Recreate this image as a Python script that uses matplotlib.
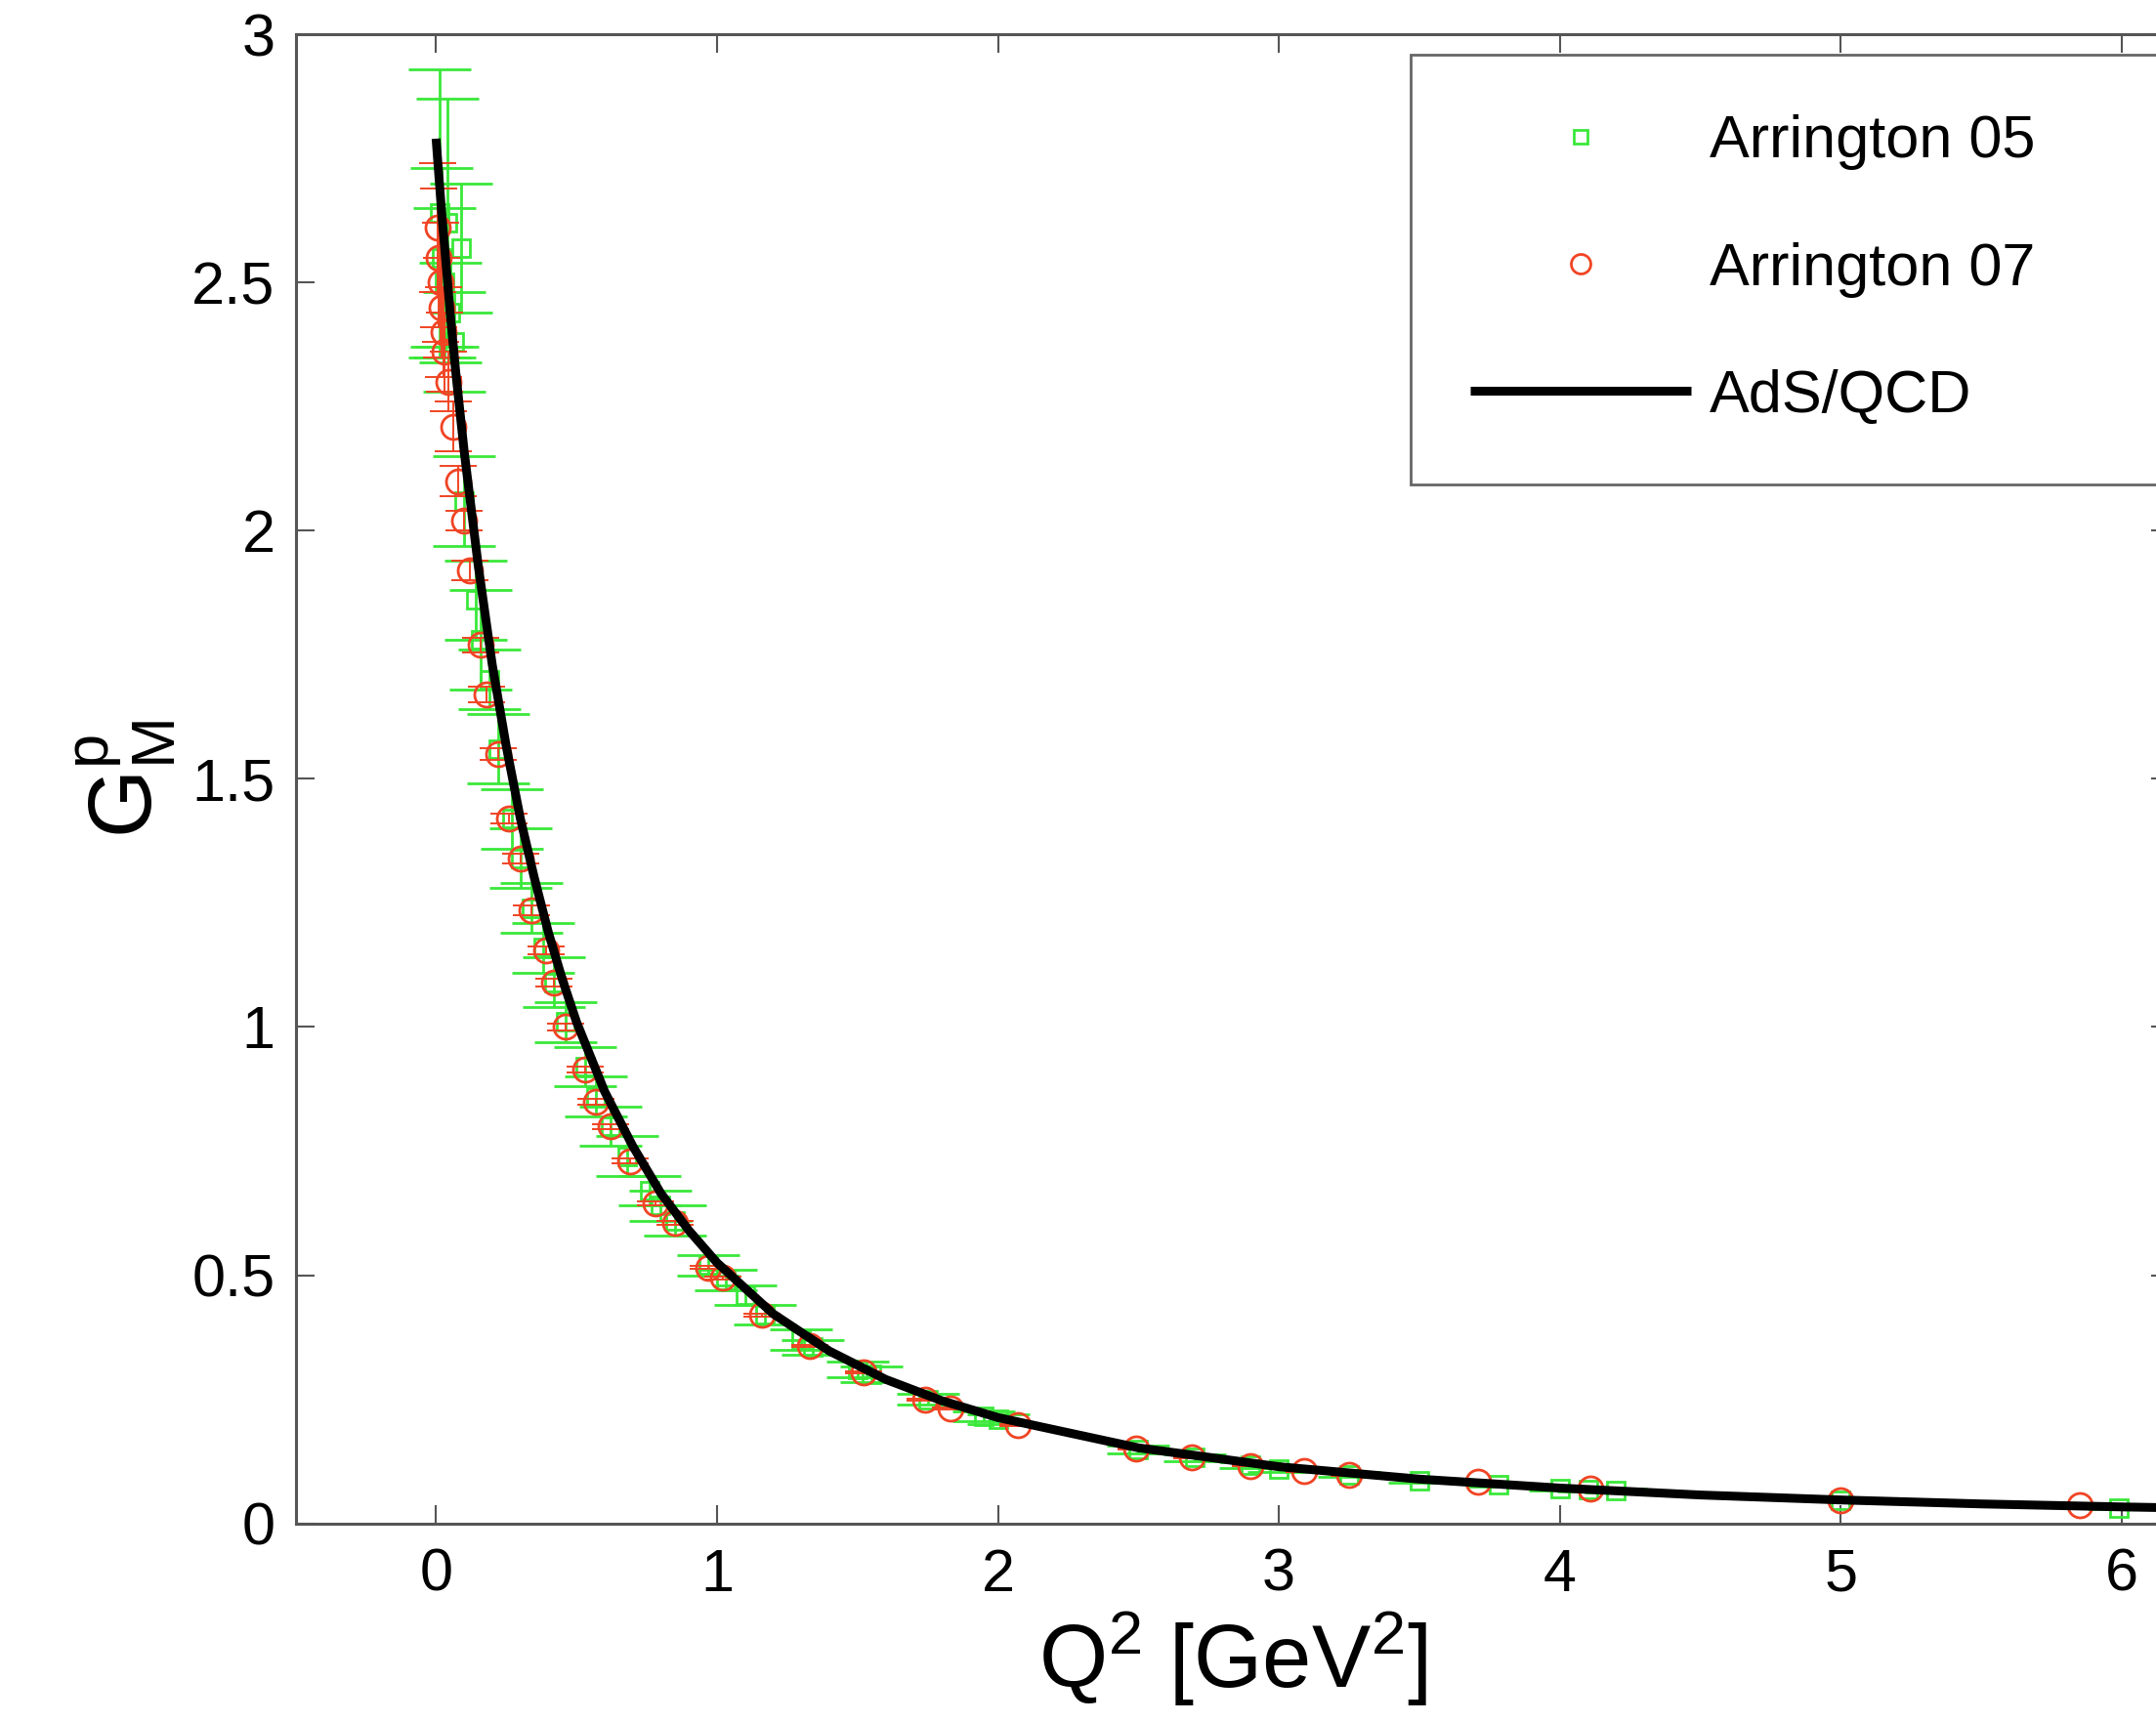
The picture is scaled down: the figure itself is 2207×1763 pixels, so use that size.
import matplotlib
matplotlib.use("Agg")
import matplotlib.pyplot as plt

plt.rcParams['font.family'] = ['Liberation Sans', 'DejaVu Sans']
plt.rcParams['mathtext.fontset'] = 'custom'
plt.rcParams['mathtext.rm'] = 'Liberation Sans'
plt.rcParams['mathtext.it'] = 'Liberation Sans'

# AdS/QCD curve
curve_q2 = [0.0, 0.01, 0.02, 0.03, 0.05, 0.07, 0.1, 0.15, 0.2, 0.25, 0.3, 0.35, 0.4, 0.45,
            0.5, 0.6, 0.7, 0.8, 0.9, 1.0, 1.2, 1.4, 1.6, 1.8, 2.0, 2.5, 3.0, 3.5, 4.0,
            4.5, 5.0, 5.5, 6.0, 6.5]
curve_gm = [2.79, 2.715, 2.64, 2.575, 2.44, 2.32, 2.16, 1.93, 1.73, 1.565, 1.42, 1.30, 1.19, 1.095,
            1.01, 0.87, 0.76, 0.665, 0.59, 0.525, 0.422, 0.347, 0.29, 0.247, 0.213, 0.152, 0.114,
            0.089, 0.071, 0.057, 0.047, 0.039, 0.033, 0.028]

# Arrington 05 (green squares)
a05_q2 = [0.012, 0.040, 0.088, 0.020, 0.030, 0.050, 0.065, 0.100, 0.140, 0.160, 0.190, 0.220,
          0.270, 0.300, 0.340, 0.380, 0.420, 0.460, 0.530, 0.570, 0.620, 0.680, 0.760, 0.800,
          0.850, 0.970, 1.030, 1.100, 1.170, 1.300, 1.340, 1.500, 1.550, 1.750, 1.950, 2.000,
          2.500, 2.700, 2.900, 3.000, 3.250, 3.500, 3.780, 4.000, 4.100, 4.200, 5.000, 5.990]
a05_gm = [2.64, 2.62, 2.57, 2.55, 2.50, 2.44, 2.38, 2.06, 1.86, 1.78, 1.70, 1.56,
          1.42, 1.34, 1.24, 1.16, 1.09, 1.01, 0.92, 0.86, 0.80, 0.74, 0.67, 0.64,
          0.61, 0.52, 0.49, 0.46, 0.42, 0.37, 0.355, 0.31, 0.30, 0.25, 0.215, 0.21,
          0.148, 0.132, 0.117, 0.110, 0.098, 0.085, 0.077, 0.070, 0.068, 0.066, 0.047, 0.031]
a05_err = [0.29, 0.25, 0.13, 0.18, 0.15, 0.10, 0.10, 0.09, 0.08, 0.10, 0.06, 0.07,
           0.06, 0.06, 0.05, 0.05, 0.05, 0.04, 0.04, 0.04, 0.04, 0.04, 0.03, 0.03,
           0.03, 0.02, 0.02, 0.02, 0.02, 0.02, 0.015, 0.015, 0.015, 0.01, 0.01, 0.01,
           0.008, 0.007, 0.006, 0.006, 0.005, 0.004, 0.004, 0.004, 0.004, 0.004, 0.003, 0.002]

# Arrington 07 (red circles)
a07_q2 = [0.005, 0.010, 0.015, 0.020, 0.025, 0.030, 0.045, 0.060, 0.080, 0.100, 0.120, 0.160,
          0.180, 0.220, 0.260, 0.300, 0.340, 0.390, 0.420, 0.460, 0.530, 0.570, 0.620, 0.690,
          0.780, 0.850, 0.970, 1.020, 1.160, 1.330, 1.520, 1.740, 1.830, 2.070, 2.490, 2.690,
          2.900, 3.090, 3.250, 3.710, 4.110, 5.000, 5.850]
a07_gm = [2.61, 2.55, 2.50, 2.45, 2.40, 2.36, 2.30, 2.21, 2.10, 2.02, 1.92, 1.77,
          1.67, 1.55, 1.42, 1.34, 1.235, 1.155, 1.09, 1.00, 0.915, 0.85, 0.80, 0.73,
          0.645, 0.605, 0.515, 0.495, 0.42, 0.357, 0.305, 0.25, 0.232, 0.198, 0.150, 0.133,
          0.116, 0.105, 0.097, 0.083, 0.069, 0.047, 0.036]
a07_err = [0.13, 0.14, 0.12, 0.10, 0.09, 0.08, 0.06, 0.05, 0.03, 0.02, 0.02, 0.015,
           0.015, 0.012, 0.01, 0.01, 0.01, 0.008, 0.008, 0.007, 0.006, 0.006, 0.005, 0.005,
           0.004, 0.004, 0.003, 0.003, 0.003, 0.002, 0.002, 0.002, 0.002, 0.002, 0.002, 0.002,
           0.001, 0.001, 0.001, 0.001, 0.001, 0.001, 0.001]

green = '#3ae83a'
red = '#f04424'

fig = plt.figure(figsize=(22.07, 17.63), dpi=100)
fig.patch.set_facecolor('white')
ax = fig.add_axes([0.1371, 0.1154, 0.8692, 0.8646])

ax.errorbar(a05_q2, a05_gm, yerr=a05_err, fmt='none', ecolor=green,
            elinewidth=2, capsize=23, capthick=2, zorder=2)
ax.plot(a05_q2, a05_gm, 's', ms=13, mfc='none', mec=green, mew=2, zorder=3,
        label='Arrington 05')
ax.errorbar(a07_q2, a07_gm, yerr=a07_err, fmt='none', ecolor=red,
            elinewidth=1.4, capsize=14, capthick=1.4, zorder=4)
ax.plot(a07_q2, a07_gm, 'o', ms=18, mfc='none', mec=red, mew=2, zorder=5,
        label='Arrington 07')
ax.plot(curve_q2, curve_gm, '-', color='black', lw=6.5, zorder=6,
        solid_capstyle='butt', label='AdS/QCD')

ax.set_xlim(-0.5, 6.17)
ax.set_ylim(0, 3)
ax.set_xticks([0, 1, 2, 3, 4, 5, 6])
ax.set_yticks([0, 0.5, 1, 1.5, 2, 2.5, 3])
ax.set_yticklabels(['0', '0.5', '1', '1.5', '2', '2.5', '3'])
ax.tick_params(direction='in', length=14, width=1.5, color='#555555',
               labelsize=44, top=True, right=True)
ax.tick_params(axis='x', pad=18)
ax.tick_params(axis='y', pad=15)
for sp in ax.spines.values():
    sp.set_color('#555555')
    sp.set_linewidth(2.2)

ax.set_xlabel(r'$\mathrm{Q}^2$ [GeV$^2$]', fontsize=65, labelpad=4)
ax.set_ylabel(r'$\mathrm{G}^{\mathrm{p}}_{\mathrm{M}}$', fontsize=65, labelpad=10)

leg = ax.legend(loc='upper left', bbox_to_anchor=(0.6543, 0, 0.347, 0.9682),
                bbox_transform=fig.transFigure, mode='expand', fontsize=44,
                frameon=True, fancybox=False, framealpha=1, borderpad=1.0,
                labelspacing=1.2, handlelength=3.7, handletextpad=0.3,
                markerscale=0.8, borderaxespad=0)
leg.get_frame().set_edgecolor('#666666')
leg.get_frame().set_linewidth(2)

fig.savefig('out.png', dpi=100)
